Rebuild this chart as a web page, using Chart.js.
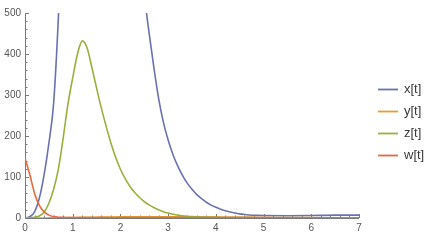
<!DOCTYPE html>
<html>
<head>
<meta charset="utf-8">
<script src="https://cdn.jsdelivr.net/npm/chart.js@4"></script>
<style>
  html, body { margin: 0; padding: 0; background: #fff; }
  canvas { display: block; }
</style>
</head>
<body>
<canvas id="chart" width="432" height="244"></canvas>
<script>
// time samples shared by all four series
var tValues = [0, 0.1, 0.2, 0.3, 0.4, 0.5, 0.6, 0.7, 0.8, 0.9,
    1.0, 1.1, 1.2, 1.3, 1.4, 1.5, 1.6, 1.7, 1.8, 1.9,
    2.0, 2.1, 2.2, 2.3, 2.4, 2.5, 2.6, 2.7, 2.8, 2.9,
    3.0, 3.1, 3.2, 3.3, 3.4, 3.5, 3.6, 3.7, 3.8, 3.9,
    4.0, 4.1, 4.2, 4.3, 4.4, 4.5, 4.6, 4.7, 4.8, 4.9,
    5.0, 5.5, 6.0, 6.5, 7.0];

var seriesNames = ["x[t]", "y[t]", "z[t]", "w[t]"];

var xValues = [0, 3, 15, 48, 105, 182, 280, 490, 780, 1050,
    1300, 1480, 1620, 1720, 1780, 1800, 1780, 1720, 1620, 1480,
    1320, 1140, 950, 790, 660, 545, 452, 368, 292, 234,
    190, 155, 127, 104, 85, 70, 57, 47, 38.5, 31.5,
    26, 21.5, 17.5, 14.5, 12, 10, 8.5, 7.5, 6.8, 6.3,
    6, 5.5, 6, 7, 7];

var yValues = [0, 0, 0, 0, 0.1, 0.2, 0.3, 0.5, 0.7, 0.9,
    1.1, 1.3, 1.5, 1.7, 1.9, 2.0, 2.2, 2.3, 2.5, 2.6,
    2.7, 2.8, 2.9, 3.0, 3.0, 3.1, 3.1, 3.1, 3.1, 3.0,
    3.0, 2.9, 2.9, 2.8, 2.7, 2.6, 2.5, 2.4, 2.3, 2.2,
    2.1, 2.0, 1.9, 1.85, 1.8, 1.7, 1.6, 1.5, 1.45, 1.4,
    1.3, 1.0, 0.8, 0.6, 0.5];

var zValues = [0, 0.5, 2, 5, 14, 36, 70, 120, 195, 278,
    342, 400, 432, 415, 368, 317, 268, 224, 183, 148,
    119, 96, 77, 62, 50, 40, 32, 25.5, 20, 15.5,
    12, 9, 7, 5.3, 4.2, 3.4, 2.8, 2.3, 2, 1.7,
    1.5, 1.4, 1.3, 1.2, 1.1, 1.0, 0.9, 0.8, 0.7, 0.6,
    0.5, 0.5, 0.3, 0.2, 0.2];

var wValues = [146, 106, 60, 31, 15, 7, 3.5, 2, 1.5, 1.3,
    1.2, 1.2, 1.2, 1.2, 1.2, 1.2, 1.2, 1.2, 1.2, 1.2,
    1.2, 1.2, 1.2, 1.2, 1.2, 1.2, 1.2, 1.2, 1.2, 1.2,
    1.1, 1.1, 1.1, 1.1, 1.1, 1.1, 1.1, 1.0, 1.0, 1.0,
    1.0, 1.0, 1.0, 1.0, 1.0, 1.0, 0.9, 0.9, 0.9, 0.8,
    0.8, 0.5, 0.3, 0.2, 0.1];

var lineColors = ["#6a72b0", "#e0a030", "#98b03c", "#e8683f"];

function toPoints(vals) {
    return tValues.map(function (t, i) { return { x: t, y: vals[i] }; });
}

var allSeries = [xValues, yValues, zValues, wValues];

// Mathematica style axes: lines through the origin, ticks pointing inward
var mmaAxes = {
    id: 'mmaAxes',
    beforeDatasetsDraw: function (chart) {
        var ctx = chart.ctx;
        var xs = chart.scales.x, ys = chart.scales.y;
        var x0 = xs.getPixelForValue(0), y0 = ys.getPixelForValue(0);
        ctx.save();
        ctx.strokeStyle = '#7a7a7a';
        ctx.lineWidth = 1;
        ctx.beginPath();
        ctx.moveTo(x0 + 0.5, ys.getPixelForValue(500));
        ctx.lineTo(x0 + 0.5, y0);
        ctx.moveTo(x0, y0 + 0.5);
        ctx.lineTo(xs.getPixelForValue(7), y0 + 0.5);
        for (var v = 0; v <= 500; v += 20) {
            var py = Math.round(ys.getPixelForValue(v)) + 0.5;
            var len = (v % 100 === 0) ? 4 : 2.5;
            ctx.moveTo(x0, py);
            ctx.lineTo(x0 + len, py);
        }
        for (var k = 0; k <= 35; k++) {
            var px = Math.round(xs.getPixelForValue(k / 5)) + 0.5;
            var l2 = (k % 5 === 0) ? 4 : 2.5;
            ctx.moveTo(px, y0);
            ctx.lineTo(px, y0 - l2);
        }
        ctx.stroke();
        ctx.restore();
    }
};

// legend on the right, short line + label
var sideLegend = {
    id: 'sideLegend',
    afterDraw: function (chart) {
        var ctx = chart.ctx;
        ctx.save();
        ctx.font = '13px "Liberation Sans", Arial, sans-serif';
        ctx.textBaseline = 'middle';
        ctx.textAlign = 'left';
        chart.data.datasets.forEach(function (ds, i) {
            var y = 89 + i * 22;
            ctx.strokeStyle = ds.borderColor;
            ctx.lineWidth = 1.8;
            ctx.beginPath();
            ctx.moveTo(378, y + 0.5);
            ctx.lineTo(398, y + 0.5);
            ctx.stroke();
            ctx.fillStyle = '#3a3a3a';
            ctx.fillText(ds.label, 404, y);
        });
        ctx.restore();
    }
};

new Chart(document.getElementById('chart'), {
    type: 'line',
    data: {
        datasets: seriesNames.map(function (name, i) {
            return {
                label: name,
                data: toPoints(allSeries[i]),
                borderColor: lineColors[i],
                backgroundColor: lineColors[i],
                borderWidth: 1.6,
                pointRadius: 0,
                fill: false,
                cubicInterpolationMode: 'monotone',
                order: 4 - i
            };
        })
    },
    options: {
        responsive: false,
        animation: false,
        devicePixelRatio: 1,
        layout: { padding: { left: 0, right: 73, top: 13, bottom: 0 } },
        plugins: {
            legend: { display: false },
            tooltip: { enabled: false }
        },
        scales: {
            x: {
                type: 'linear',
                min: 0,
                max: 7,
                grid: { display: false, drawTicks: false },
                border: { display: false },
                ticks: {
                    stepSize: 1,
                    padding: 4,
                    maxRotation: 0,
                    color: '#555',
                    font: { family: '"Liberation Sans", Arial, sans-serif', size: 10 }
                },
                afterFit: function (scale) { scale.height = 26; }
            },
            y: {
                min: 0,
                max: 500,
                grid: { display: false, drawTicks: false },
                border: { display: false },
                ticks: {
                    stepSize: 100,
                    padding: 4,
                    color: '#555',
                    font: { family: '"Liberation Sans", Arial, sans-serif', size: 10 }
                },
                afterFit: function (scale) { scale.width = 25; }
            }
        }
    },
    plugins: [mmaAxes, sideLegend]
});
</script>
</body>
</html>
